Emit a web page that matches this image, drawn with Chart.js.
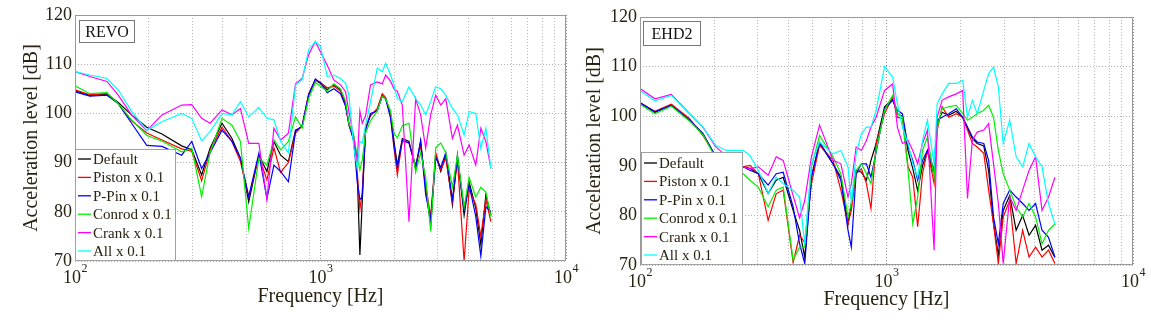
<!DOCTYPE html>
<html><head><meta charset="utf-8">
<script src="https://cdn.jsdelivr.net/npm/chart.js@4.4.1/dist/chart.umd.min.js"></script>
<style>
html,body{margin:0;padding:0;background:#fff;}
#wrap{position:relative;width:1151px;height:321px;overflow:hidden;}
canvas{position:absolute;top:0;}
</style></head><body>
<div id="wrap">
<canvas id="c1" width="600" height="321" style="left:0"></canvas>
<canvas id="c2" width="576" height="321" style="left:575px"></canvas>
</div>
<script>
// ---------- labels ----------
const seriesNames = ['Default', 'Piston x 0.1', 'P-Pin x 0.1', 'Conrod x 0.1', 'Crank x 0.1', 'All x 0.1'];
const seriesColors = ['#000000', '#ff0000', '#0000ff', '#00f000', '#ff00ff', '#00ffff'];
const panelLabels = ['REVO', 'EHD2'];
const yTicks = [70, 80, 90, 100, 110, 120];
const xTickValues = [100, 1000, 10000];
const xTickBase = '10';
const xTickExponents = ['2', '3', '4'];
const xTitle = 'Frequency [Hz]';
const yTitle = 'Acceleration level [dB]';

// ---------- REVO (left) ----------
const revoFreq = [100,115,135,150,170,196,226,272,299,328, 355,397,436,472,510,561,605,646,688,740, 791,842,895,953,1000, 1065,1133,1207,1265,1305,1368,1412,1447,1479,1526, 1599,1703,1785,1843,1930,1992,2056,2154,2293,2441, 2558,2682,2811,2947,3089,3238,3446,3612,3846,4030, 4291,4499,4716,4944];
const revoDefault = [104.6,103.6,103.9,102.2,99.7,97.2,95.8,93.4,92.6,87.5, 92.9,98.0,94.9,90.9,82.0,91.5,88.2,94.3,91.5,90.2, 96.6,97.3,103.7,106.8,106.1, 104.8,105.8,104.8,102.0,97.6,94.9,87.5,71.2,82.0,97.0, 99.7,100.7,103.7,103.0,99.7,94.3,89.5,94.9,94.3,88.8, 94.3,84.8,77.3,91.5,88.2,91.5,81.4,91.5,79.3,86.1, 80.7,73.3,83.4,79.3];
const revoPiston = [104.8,103.8,104.0,102.0,98.5,96.0,94.6,92.8,92.3,86.3, 92.5,97.2,94.3,90.2,83.0,91.3,86.5,93.0,88.0,90.0, 96.0,97.5,104.0,106.8,106.3, 105.2,105.5,104.5,101.5,97.8,94.5,88.0,80.5,84.0,97.2, 99.5,101.0,104.0,103.2,99.5,93.0,87.5,94.5,94.0,89.5, 93.5,85.5,79.0,92.0,88.5,91.0,82.0,90.5,70.0,84.5, 81.5,75.0,82.5,78.0];
const revoPPin = [104.4,103.5,103.7,102.0,98.0,93.5,93.3,91.5,94.3,88.8, 92.0,96.6,94.3,90.9,83.1,91.9,82.7,89.5,88.2,86.1, 96.3,97.5,103.8,107.0,106.2, 104.2,105.0,104.0,101.5,98.0,94.2,86.0,82.5,83.0,96.5, 100.0,100.5,103.5,103.0,99.0,93.5,89.0,94.5,94.0,89.0, 94.5,83.5,78.5,91.0,89.0,92.0,82.5,91.0,80.5,85.5, 79.0,71.0,81.0,80.0];
const revoConrod = [105.6,104.0,104.2,102.0,98.7,95.5,94.4,92.2,92.9,83.1, 92.0,99.0,97.6,94.3,76.6,90.9,89.5,94.6,92.6,94.3, 99.3,97.0,103.0,106.3,105.5, 104.5,106.0,105.0,102.5,98.0,95.5,91.0,88.5,90.5,96.0, 98.5,100.5,103.5,103.0,100.5,96.0,95.0,97.5,98.0,88.0, 92.0,87.0,76.0,93.0,94.0,92.0,85.0,91.5,81.0,87.0, 83.0,85.0,84.0,79.0];
const revoCrank = [108.5,107.5,106.5,103.7,99.7,96.5,99.7,101.7,101.8,99.0, 98.0,100.7,99.7,101.0,93.9,93.9,82.5,97.0,94.6,96.0, 106.0,107.1,112.0,114.6,112.5, 109.8,106.8,105.8,104.4,100.4,94.9,90.2,100.5,98.0,99.5, 105.8,106.4,106.0,107.8,106.5,105.0,104.5,101.7,78.0,103.0, 99.7,92.9,99.7,103.7,101.7,103.0,94.9,97.6,91.5,93.6, 89.5,97.0,94.3,88.8];
const revoAll = [108.5,107.8,107.1,104.8,100.4,96.6,98.3,100.0,99.0,94.4, 96.3,100.0,99.7,102.4,99.3,101.2,99.0,98.7,94.3,92.0, 105.8,106.8,113.0,114.6,113.6, 107.5,107.8,107.1,106.1,103.7,92.9,88.8,94.3,94.0,97.6, 102.4,109.2,108.5,110.2,107.8,105.8,103.0,102.4,105.4,103.0, 101.7,99.7,102.5,105.4,105.0,103.7,101.0,99.7,95.6,100.4, 100.0,92.9,97.0,88.8];

// ---------- EHD2 (right) ----------
const ehdFreq = [100,115,134,159,180,203,224,262,279,302, 331,357,381,418,444,466,496,535,607,653, 698,720,753,791,829,865,908,982, 1059,1107,1160,1223,1278,1338,1400,1466,1560,1606, 1681,1787,1918,2037,2131,2230,2334,2481,2596,2717, 2843,2975,3161,3357,3567,3788,4025,4275,4541,4823];
const ehdDefault = [102.7,100.8,102.2,99.2,96.5,91.8,90.5,89.8,89.5,88.4, 84.4,87.1,87.7,81.0,77.0,71.6,87.7,94.5,90.4,87.7, 78.3,82.4,89.1,88.7,87.1,91.1,94.5,101.9, 103.5,100.5,100.0,93.0,89.5,85.0,90.0,93.0,88.0,98.5, 100.8,100.2,101.0,99.8,97.5,95.5,94.5,94.0,89.0,78.5, 72.0,81.0,84.0,77.0,80.0,76.0,78.0,73.0,74.0,71.5];
const ehdPiston = [102.7,101.0,102.4,99.5,96.1,91.8,90.5,89.8,90.1,88.4, 79.0,84.4,85.1,70.5,76.0,74.5,86.4,94.1,91.1,85.1, 78.3,81.0,88.4,89.4,86.4,81.4,94.5,100.5, 103.9,99.8,99.5,89.8,87.7,77.7,88.4,93.1,86.4,97.2, 101.9,99.8,100.5,99.8,97.2,94.5,93.8,92.5,85.1,78.3, 70.3,79.7,83.0,70.3,77.0,71.6,73.6,71.6,73.0,70.3];
const ehdPPin = [102.7,100.9,102.2,99.2,96.5,91.8,90.5,89.8,89.1,88.4, 86.1,88.4,88.7,81.7,74.3,70.3,87.7,94.8,90.4,87.1, 77.0,73.6,88.4,90.4,90.4,87.7,92.8,101.5, 103.2,101.2,100.5,93.8,91.1,87.1,91.1,93.1,89.1,99.2, 99.8,100.5,101.5,99.8,97.8,95.8,94.8,94.5,91.1,79.7, 74.3,82.4,85.1,83.7,82.4,81.0,82.4,77.0,75.6,71.6];
const ehdConrod = [102.4,100.5,102.0,99.0,96.3,91.5,90.0,88.4,87.1,85.7, 81.7,85.1,85.7,71.0,73.6,73.6,89.8,96.1,91.8,88.4, 79.7,82.4,89.1,90.4,88.4,86.4,93.1,101.2, 104.2,100.5,99.8,89.1,78.3,83.7,93.1,95.8,87.7,97.8, 101.5,101.9,102.2,100.5,99.2,99.8,100.5,101.2,102.2,99.8, 93.1,88.4,85.1,81.7,79.7,82.4,79.7,74.3,77.0,78.3];
const ehdCrank = [105.6,103.5,104.4,100.5,97.8,93.8,92.0,89.8,89.4,89.8, 88.1,91.8,91.1,84.0,79.5,83.0,91.8,98.2,91.1,90.4, 83.7,86.4,93.8,93.1,95.1,97.8,99.8,105.2, 106.5,97.8,94.5,95.1,93.1,90.4,94.5,97.2,73.0,99.8, 103.2,103.9,104.5,105.2,83.4,95.1,96.8,97.2,98.5,90.4, 82.4,70.3,83.7,81.0,85.1,89.1,91.8,81.0,83.7,87.7];
const ehdAll = [105.2,103.1,104.2,100.5,97.8,94.1,93.1,93.1,92.1,89.1, 84.4,87.7,86.4,85.1,83.7,74.3,90.4,94.8,92.4,93.1, 89.8,82.4,92.4,96.5,97.8,97.8,101.2,110.0, 107.9,102.5,97.8,94.5,90.4,87.7,95.1,99.2,90.4,102.5, 104.5,106.6,106.6,107.2,99.8,103.2,100.5,105.2,108.6,109.9, 105.9,94.5,99.2,91.8,89.8,94.5,91.8,89.8,82.4,78.3];

const FONT = 'Liberation Serif';
const TEXT = '#2a2312';

function gridTicks(min, max) {
  const out = [];
  for (let d = min; d < max; d *= 10) for (let m = 1; m < 10; m++) out.push(d * m);
  out.push(max);
  return out;
}
const isDecade = v => Math.abs(Math.log10(v) - Math.round(Math.log10(v))) < 1e-9;

const overlay = {
  id: 'overlay',
  afterDatasetsDraw(chart, args, o) {
    const ctx = chart.ctx, ca = chart.chartArea;
    ctx.save();
    ctx.strokeStyle = '#9a9a9a'; ctx.lineWidth = 1;
    ctx.strokeRect(Math.round(ca.left) + 0.5, Math.round(ca.top) + 0.5,
                   Math.round(ca.right - ca.left) - 1, Math.round(ca.bottom - ca.top) - 1);
    const lx = Math.round(ca.left) + o.legDx, lw = o.legW, lh = o.legH;
    const ly = Math.round(ca.bottom) - lh;
    ctx.fillStyle = '#fff'; ctx.fillRect(lx, ly, lw, lh);
    ctx.strokeStyle = '#a0a0a0'; ctx.strokeRect(lx + 0.5, ly + 0.5, lw - 1, lh - 1);
    ctx.font = '15px "' + FONT + '"'; ctx.textBaseline = 'middle'; ctx.textAlign = 'left';
    chart.data.datasets.forEach((ds, i) => {
      const y = ly + o.legRow0 + i * 18.4;
      ctx.strokeStyle = ds.borderColor; ctx.lineWidth = 1.3;
      ctx.beginPath(); ctx.moveTo(lx + 3, y); ctx.lineTo(lx + 16, y); ctx.stroke();
      ctx.fillStyle = TEXT; ctx.fillText(ds.label, lx + 18, y + 1);
    });
    const bx = Math.round(ca.left) + o.boxDx, by = Math.round(ca.top) + o.boxDy;
    ctx.fillStyle = '#fff'; ctx.fillRect(bx, by, o.boxW, o.boxH);
    ctx.strokeStyle = '#777'; ctx.lineWidth = 1;
    ctx.strokeRect(bx + 0.5, by + 0.5, o.boxW - 1, o.boxH - 1);
    ctx.fillStyle = '#111'; ctx.font = '16px "' + FONT + '"'; ctx.textAlign = 'center';
    ctx.fillText(o.label, bx + o.boxW / 2, by + o.boxH / 2 + 1);
    ctx.restore();
  },
  afterDraw(chart) {
    const ctx = chart.ctx, ca = chart.chartArea, xs = chart.scales.x;
    ctx.save();
    ctx.fillStyle = TEXT; ctx.textBaseline = 'middle'; ctx.textAlign = 'left';
    xTickValues.forEach((v, i) => {
      const px = xs.getPixelForValue(v);
      ctx.font = '18px "' + FONT + '"';
      const w1 = ctx.measureText(xTickBase).width;
      ctx.font = '12px "' + FONT + '"';
      const w2 = ctx.measureText(xTickExponents[i]).width;
      const x0 = px - (w1 + w2) / 2;
      ctx.font = '18px "' + FONT + '"';
      ctx.fillText(xTickBase, x0, ca.bottom + 17);
      ctx.font = '12px "' + FONT + '"';
      ctx.fillText(xTickExponents[i], x0 + w1 + 0.5, ca.bottom + 8);
    });
    ctx.restore();
  }
};

function makeChart(id, freq, series, cfg) {
  const datasets = series.map((vals, i) => ({
    label: seriesNames[i],
    data: freq.map((f, k) => ({ x: f, y: vals[k] })),
    borderColor: seriesColors[i],
    backgroundColor: seriesColors[i],
    borderWidth: 1.2,
    pointRadius: 0,
    tension: 0,
    fill: false,
    order: series.length - i
  }));
  return new Chart(document.getElementById(id), {
    type: 'line',
    data: { datasets },
    options: {
      responsive: false, animation: false, devicePixelRatio: 1,
      layout: { padding: cfg.pad },
      plugins: { legend: { display: false }, tooltip: { enabled: false }, overlay: cfg.overlay },
      scales: {
        x: {
          type: 'logarithmic', min: 100, max: 10000,
          afterBuildTicks: s => { s.ticks = gridTicks(100, 10000).map(v => ({ value: v })); },
          ticks: { display: false, autoSkip: false },
          grid: { drawTicks: false, lineWidth: 1,
                  color: c => (c.tick && isDecade(c.tick.value)) ? '#8c8c8c' : '#b8b8b8' },
          border: { display: false, dash: [1, 2] },
          title: { display: true, text: xTitle, color: TEXT,
                   font: { family: FONT, size: 20 }, padding: { top: 0, bottom: cfg.xTitlePad } },
          afterFit: s => { s.height = cfg.xH; }
        },
        y: {
          type: 'linear', min: 70, max: 120,
          afterBuildTicks: s => { s.ticks = yTicks.map(v => ({ value: v })); },
          ticks: { color: TEXT, font: { family: FONT, size: 18 }, padding: 3 },
          grid: { drawTicks: false, lineWidth: 1, color: '#b0b0b0' },
          border: { display: false, dash: [1, 2] },
          title: { display: true, text: yTitle, color: TEXT,
                   font: { family: FONT, size: 20 }, padding: { top: cfg.yTitlePad, bottom: 0 } },
          afterFit: s => { s.width = cfg.yW; }
        }
      }
    },
    plugins: [overlay]
  });
}

makeChart('c1', revoFreq,
  [revoDefault, revoPiston, revoPPin, revoConrod, revoCrank, revoAll],
  { pad: { left: 0, top: 15, right: 34, bottom: 0 }, xH: 60, yW: 75, xTitlePad: 12, yTitlePad: 20,
    overlay: { label: panelLabels[0], legDx: 0, legW: 101, legH: 112, legRow0: 10,
               boxDx: 4, boxDy: 5, boxW: 56, boxH: 23 } });

makeChart('c2', ehdFreq,
  [ehdDefault, ehdPiston, ehdPPin, ehdConrod, ehdCrank, ehdAll],
  { pad: { left: 0, top: 17, right: 18, bottom: 0 }, xH: 56, yW: 65, xTitlePad: 9, yTitlePad: 8,
    overlay: { label: panelLabels[1], legDx: 1, legW: 102, legH: 113, legRow0: 11,
               boxDx: 3, boxDy: 4, boxW: 58, boxH: 25 } });
</script>
</body></html>
